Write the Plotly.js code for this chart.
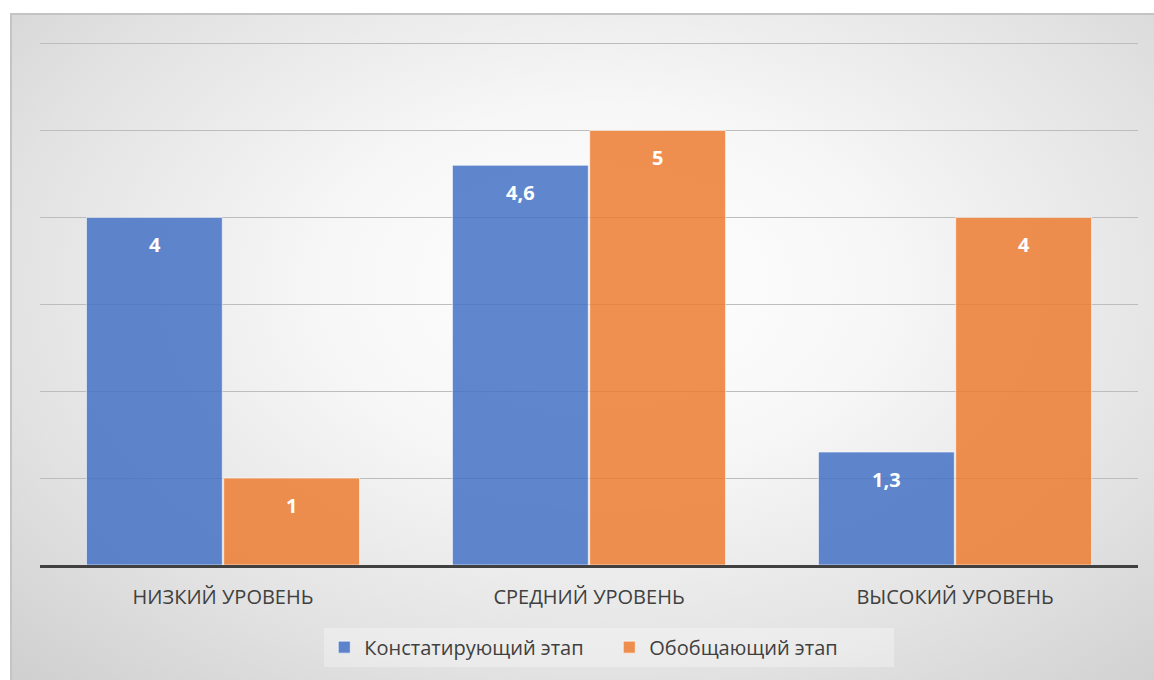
<!DOCTYPE html>
<html><head><meta charset="utf-8">
<script src="https://cdn.plot.ly/plotly-3.0.1.min.js"></script>
<style>
html,body{margin:0;padding:0;background:#fff;width:1154px;height:680px;overflow:hidden;}
#bg{position:absolute;left:10px;top:13px;width:1160px;height:680px;border-left:2px solid #c4c4c4;border-top:2px solid #c4c4c4;
background:radial-gradient(ellipse 80% 88% at 51% 40%, #ffffff 0%, #f7f7f7 30%, #e2e2e2 65%, #c9c9c9 100%);}
#chart{position:absolute;left:0;top:0;width:1154px;height:680px;}
</style></head><body>
<div id="bg"></div>
<div id="chart"></div>
<script>
const categories = ['НИЗКИЙ УРОВЕНЬ', 'СРЕДНИЙ УРОВЕНЬ', 'ВЫСОКИЙ УРОВЕНЬ'];
const seriesNames = ['Констатирующий этап', 'Обобщающий этап'];
const constat = [4, 4.6, 1.3];
const obobsh = [1, 5, 4];
const fmt = v => String(v).replace('.', ',');
const FONT = 'Open Sans, Noto Sans, sans-serif';

const traces = [
  {type:'bar', name:seriesNames[0], x:categories, y:constat,
   marker:{color:'rgba(68,114,196,0.85)', line:{color:'rgba(255,255,255,0.6)', width:1}}},
  {type:'bar', name:seriesNames[1], x:categories, y:obobsh,
   marker:{color:'rgba(237,125,49,0.85)', line:{color:'rgba(255,255,255,0.6)', width:1}}}
].map(t => Object.assign(t, {hoverinfo:'none'}));

const annotations = [];
[[constat, -68.5], [obobsh, 68.5]].forEach(([vals, dx]) => {
  vals.forEach((v, i) => annotations.push({
    x: i, y: v, xref:'x', yref:'y', text: '<b>' + fmt(v) + '</b>', showarrow:false,
    xshift: dx, yshift: -27, yanchor:'middle',
    font:{family:FONT, size:20, color:'#ffffff'}
  }));
});

const layout = {
  width:1154, height:680,
  margin:{l:40, r:16, t:41, b:115},
  paper_bgcolor:'rgba(0,0,0,0)', plot_bgcolor:'rgba(0,0,0,0)',
  barmode:'group', bargap:0.25, bargroupgap:0.01,
  font:{family:FONT, color:'#404040'},
  xaxis:{showline:true, linecolor:'#404040', linewidth:3, ticks:'', showgrid:false,
         tickfont:{size:20, color:'#404040'}, ticklabelstandoff:12},
  yaxis:{range:[0,6.03], dtick:1, showticklabels:false, showgrid:true, gridcolor:'#bdbdbd', gridwidth:1,
         zeroline:false, showline:false},
  annotations: annotations,
  showlegend:true,
  legend:{orientation:'h', x:0.281, xanchor:'left', xref:'container', y:0.077, yanchor:'top', yref:'container',
          bgcolor:'rgba(255,255,255,0.3)', font:{size:20, color:'#404040'},
          itemwidth:30, entrywidth:240, traceorder:'normal'}
};
Plotly.newPlot('chart', traces, layout, {displayModeBar:false, staticPlot:true});
</script>
</body></html>
